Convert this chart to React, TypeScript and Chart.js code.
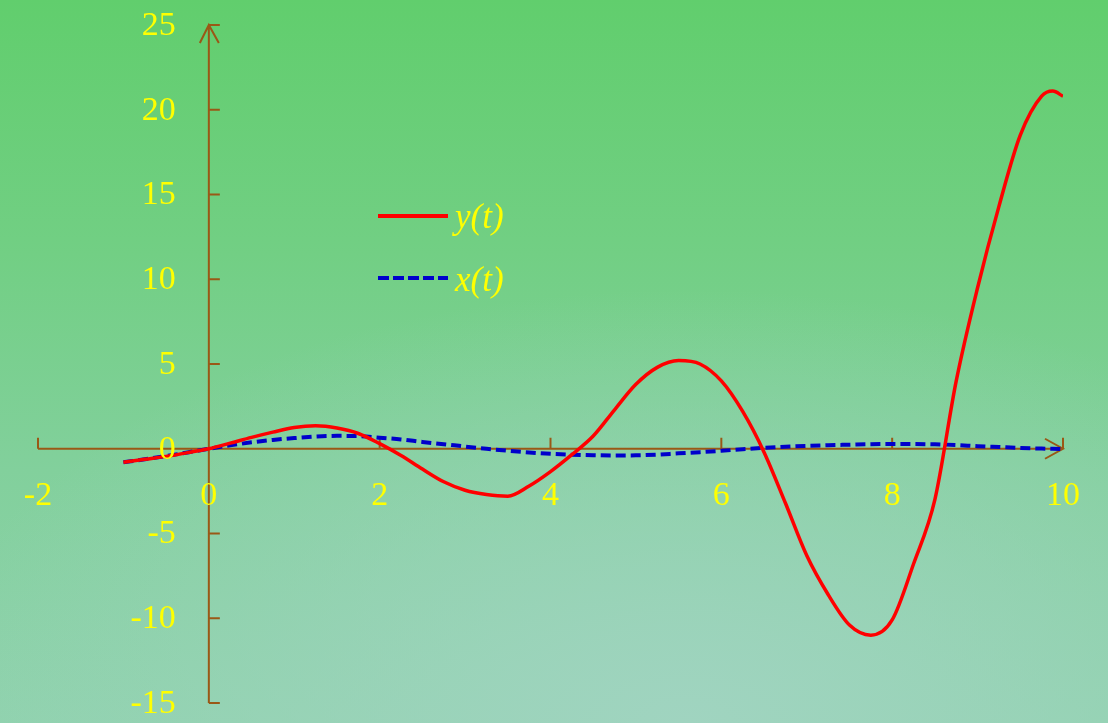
import React, { useEffect, useRef } from "react";
import { Chart, registerables } from "chart.js";

Chart.register(...registerables);

const tValues = [
  -1, -0.75, -0.5, -0.25, 0, 0.25, 0.5, 0.75, 1, 1.25, 1.5, 1.75, 2, 2.25, 2.5, 2.75, 3, 3.25, 3.5, 3.75,
  4, 4.25, 4.5, 4.75, 5, 5.25, 5.5, 5.75, 6, 6.25, 6.5, 6.75, 7, 7.25, 7.5, 7.75, 8, 8.25, 8.5, 8.75,
  9, 9.25, 9.5, 9.75, 9.88, 10,
];
const ySeries = [
  -0.8, -0.62, -0.45, -0.23, 0, 0.33, 0.67, 0.98, 1.25, 1.35, 1.22, 0.9, 0.3, -0.4, -1.2, -1.95, -2.45, -2.7, -2.8, -2.2,
  -1.35, -0.35, 0.75, 2.3, 3.8, 4.8, 5.2, 5.0, 4.0, 2.2, -0.2, -3.2, -6.3, -8.6, -10.4, -11.0, -10.1, -6.8, -3.0, 4.0,
  9.5, 14.3, 18.5, 20.8, 21.1, 20.8,
];
const xSeries = [
  -0.8, -0.62, -0.43, -0.22, 0, 0.2, 0.38, 0.52, 0.63, 0.72, 0.76, 0.75, 0.65, 0.55, 0.4, 0.27, 0.13, 0.0, -0.12, -0.22,
  -0.3, -0.35, -0.38, -0.4, -0.39, -0.35, -0.27, -0.2, -0.12, -0.03, 0.05, 0.12, 0.17, 0.21, 0.24, 0.27, 0.28, 0.28, 0.26, 0.22,
  0.15, 0.1, 0.05, 0.01, 0.0, -0.03,
];
const xTicks = [-2, 0, 2, 4, 6, 8, 10];
const yTicks = [25, 20, 15, 10, 5, 0, -5, -10, -15];
const seriesLabels = ["y(t)", "x(t)"];

const AXIS = "#9a5816";
const LABEL = "#ffff00";
const RED = "#ff0000";
const BLUE = "#0000cc";

const axesPlugin = {
  id: "customAxes",
  beforeDatasetsDraw(chart: any) {
    const { ctx, scales } = chart;
    const xs = scales.x;
    const ys = scales.y;
    const x0 = xs.getPixelForValue(0);
    const y0 = ys.getPixelForValue(0);
    const xL = xs.getPixelForValue(-2);
    const xR = xs.getPixelForValue(10);
    const yT = ys.getPixelForValue(25);
    const yB = ys.getPixelForValue(-15);
    ctx.save();
    ctx.strokeStyle = AXIS;
    ctx.lineWidth = 2;
    ctx.lineCap = "butt";
    ctx.beginPath();
    ctx.moveTo(xL, y0);
    ctx.lineTo(xR, y0);
    ctx.moveTo(x0, yB);
    ctx.lineTo(x0, yT);
    for (const v of xTicks) {
      if (v === 0) continue;
      const px = xs.getPixelForValue(v);
      ctx.moveTo(px, y0);
      ctx.lineTo(px, y0 - 11);
    }
    for (const v of yTicks) {
      if (v === 0) continue;
      const py = ys.getPixelForValue(v);
      ctx.moveTo(x0, py);
      ctx.lineTo(x0 + 11, py);
    }
    ctx.moveTo(xR - 18, y0 - 10);
    ctx.lineTo(xR, y0);
    ctx.lineTo(xR - 18, y0 + 10);
    ctx.moveTo(x0 - 9, yT + 18);
    ctx.lineTo(x0, yT);
    ctx.lineTo(x0 + 10, yT + 18);
    ctx.stroke();
    ctx.restore();
  },
  afterDatasetsDraw(chart: any) {
    const { ctx, scales } = chart;
    const xs = scales.x;
    const ys = scales.y;
    const x0 = xs.getPixelForValue(0);
    const y0 = ys.getPixelForValue(0);
    ctx.save();
    ctx.fillStyle = LABEL;
    ctx.font = '34px "Liberation Serif", "Times New Roman", serif';
    ctx.textBaseline = "middle";
    ctx.textAlign = "center";
    for (const v of xTicks) {
      ctx.fillText(String(v), xs.getPixelForValue(v), y0 + 47);
    }
    ctx.textAlign = "right";
    for (const v of yTicks) {
      ctx.fillText(String(v), x0 - 33, ys.getPixelForValue(v) + 1);
    }
    const lx1 = 378;
    const lx2 = 448;
    const rows = [
      { y: 216, color: RED, dash: [] as number[], label: seriesLabels[0], ty: 219 },
      { y: 278, color: BLUE, dash: [11, 4], label: seriesLabels[1], ty: 282 },
    ];
    for (const r of rows) {
      ctx.strokeStyle = r.color;
      ctx.lineWidth = 4;
      ctx.setLineDash(r.dash);
      ctx.beginPath();
      ctx.moveTo(lx1, r.y);
      ctx.lineTo(lx2, r.y);
      ctx.stroke();
      ctx.setLineDash([]);
      ctx.fillStyle = LABEL;
      ctx.textAlign = "left";
      ctx.font = 'italic 35px "Liberation Serif", "Times New Roman", serif';
      ctx.fillText(r.label, lx2 + 7, r.ty);
    }
    ctx.restore();
  },
};

export default function App() {
  const ref = useRef<HTMLCanvasElement>(null);
  useEffect(() => {
    if (!ref.current) return;
    const chart = new Chart(ref.current, {
      type: "line",
      data: {
        datasets: [
          {
            label: seriesLabels[0],
            data: tValues.map((t, i) => ({ x: t, y: ySeries[i] })),
            borderColor: RED,
            borderWidth: 3.5,
            pointRadius: 0,
            tension: 0.4,
            cubicInterpolationMode: "monotone",
            fill: false,
          },
          {
            label: seriesLabels[1],
            data: tValues.map((t, i) => ({ x: t, y: xSeries[i] })),
            borderColor: BLUE,
            borderWidth: 4,
            borderDash: [10, 5],
            pointRadius: 0,
            tension: 0.4,
            cubicInterpolationMode: "monotone",
            fill: false,
          },
        ],
      },
      options: {
        animation: false,
        responsive: false,
        maintainAspectRatio: false,
        layout: { padding: { left: 38, right: 45, top: 25, bottom: 20 } },
        plugins: { legend: { display: false }, tooltip: { enabled: false } },
        scales: {
          x: { type: "linear", min: -2, max: 10, display: false },
          y: { type: "linear", min: -15, max: 25, display: false },
        },
      },
      plugins: [axesPlugin],
    });
    return () => chart.destroy();
  }, []);
  return (
    <div
      style={{
        position: "absolute",
        left: 0,
        top: 0,
        width: 1108,
        height: 723,
        background:
          "radial-gradient(ellipse 70% 60% at 62% 100%, rgba(160,212,192,1) 0%, rgba(160,212,192,0) 100%), linear-gradient(180deg, #61ce6d 0%, #72cf84 35%, #82d09c 65%, #8fd2ad 100%)",
      }}
    >
      <canvas ref={ref} width={1108} height={723} style={{ display: "block", width: 1108, height: 723 }} />
    </div>
  );
}
